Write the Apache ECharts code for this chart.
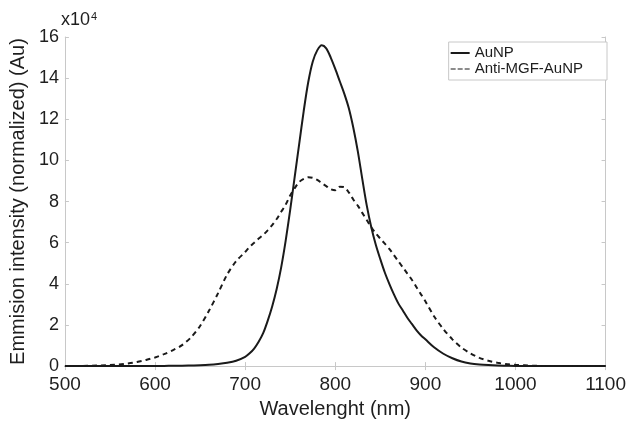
<!DOCTYPE html>
<html><head><meta charset="utf-8">
<script src="https://cdn.jsdelivr.net/npm/echarts@6/dist/echarts.min.js"></script>
<style>html,body{margin:0;padding:0;background:#fff}#c{width:629px;height:424px}</style>
</head><body><div id="c"></div>
<script>
// Wavelength (nm)
const wavelengths = [
  500,510,520,530,540,550,560,570,580,590,600,610,620,630,640,650,660,670,680,690,
  700,705,710,715,720,725,730,735,740,745,750,755,760,765,770,775,780,785,790,795,
  800,805,810,815,820,825,830,835,840,845,850,855,860,865,870,875,880,885,890,895,
  900,910,920,930,940,950,960,970,980,990,1000,1010,1020,1030,1040,1050,1060,1070,1080,1090,1100
];
// Emission intensity (x10^4)
const auNP = [
  0,0,0,0,0,0,0,0,0,0.01,0.01,0.01,0.02,0.02,0.03,0.04,0.06,0.1,0.16,0.26,
  0.45,0.62,0.85,1.18,1.6,2.2,2.9,3.75,4.8,6.1,7.6,9.2,10.8,12.4,13.8,14.8,15.35,15.6,15.45,15.0,
  14.45,13.85,13.25,12.55,11.6,10.45,9.1,7.8,6.75,5.9,5.2,4.55,4.0,3.5,3.05,2.7,2.35,2.05,1.75,1.5,
  1.3,0.9,0.6,0.38,0.22,0.13,0.08,0.05,0.03,0.02,0.01,0.01,0,0,0,0,0,0,0,0,0
];
const antiMGF = [
  0,0,0.01,0.02,0.03,0.05,0.08,0.13,0.2,0.3,0.42,0.58,0.78,1.02,1.4,1.95,2.7,3.55,4.45,5.1,
  5.55,5.8,6.0,6.2,6.38,6.6,6.85,7.15,7.5,7.85,8.3,8.65,8.95,9.1,9.18,9.15,9.05,8.9,8.75,8.6,
  8.55,8.72,8.7,8.45,8.1,7.8,7.45,7.1,6.75,6.45,6.2,5.95,5.7,5.4,5.1,4.8,4.5,4.2,3.85,3.5,
  3.15,2.4,1.8,1.3,0.9,0.62,0.4,0.26,0.16,0.1,0.06,0.04,0.02,0.01,0.01,0,0,0,0,0,0
];
const seriesNames = ['AuNP','Anti-MGF-AuNP'];
const xTicks = {min:500,max:1100,interval:100};
const yTicks = {min:0,max:16,interval:2};

const font = '"Liberation Sans", Arial, sans-serif';
const gridCol = '#c8c8c8';
const txtCol = '#1e1e1e';
const chart = echarts.init(document.getElementById('c'), null, {renderer:'canvas'});
const pair = arr => wavelengths.map((w,i)=>[w,arr[i]]);
const hiddenAxis = {show:true, axisLine:{show:true,lineStyle:{color:gridCol,width:1}}, axisTick:{show:true,inside:true,length:4,lineStyle:{color:gridCol}}, axisLabel:{show:false}, splitLine:{show:false}};
chart.setOption({
  animation:false,
  backgroundColor:'#fff',
  grid:{left:62,right:20,top:37,bottom:56,containLabel:false},
  xAxis:[{
    type:'value', min:xTicks.min, max:xTicks.max, interval:xTicks.interval, position:'bottom',
    name:'Wavelenght (nm)', nameLocation:'middle', nameGap:30,
    nameTextStyle:{fontFamily:font,fontSize:20,color:txtCol},
    axisLine:{show:true,onZero:false,lineStyle:{color:gridCol,width:1}},
    axisTick:{show:true,inside:true,length:4,lineStyle:{color:gridCol}},
    axisLabel:{fontFamily:font,fontSize:19,color:txtCol,margin:9,formatter:v=>String(v)},
    splitLine:{show:false}
  }, Object.assign({type:'value',min:xTicks.min,max:xTicks.max,interval:xTicks.interval,position:'top'},hiddenAxis)],
  yAxis:[{
    type:'value', min:yTicks.min, max:yTicks.max, interval:yTicks.interval, position:'left',
    name:'Emmision intensity (normalized) (Au)', nameLocation:'middle', nameGap:27, nameRotate:90,
    nameTextStyle:{fontFamily:font,fontSize:20,color:txtCol},
    axisLine:{show:true,onZero:false,lineStyle:{color:gridCol,width:1}},
    axisTick:{show:true,inside:true,length:4,lineStyle:{color:gridCol}},
    axisLabel:{fontFamily:font,fontSize:18,color:txtCol,margin:6},
    splitLine:{show:false}
  }, Object.assign({type:'value',min:yTicks.min,max:yTicks.max,interval:yTicks.interval,position:'right'},hiddenAxis)],
  legend:{
    orient:'vertical', right:22, top:42, itemGap:0, itemWidth:19, itemHeight:2,
    padding:[3,24,3,2], borderColor:gridCol, borderWidth:1, backgroundColor:'#fff',
    textStyle:{fontFamily:font,fontSize:15,lineHeight:16,color:txtCol},
    data:[
      {name:seriesNames[0], icon:'rect'},
      {name:seriesNames[1], icon:'path://M0,0h5v1h-5z M7,0h5v1h-5z M14,0h5v1h-5z'}
    ]
  },
  graphic:[{
    type:'text', left:61, top:11,
    style:{text:'{a|x10}{b|4}', rich:{a:{fontFamily:font,fontSize:18,fill:txtCol}, b:{fontFamily:font,fontSize:11,fill:txtCol,verticalAlign:'top',padding:[0,0,8,1]}}}
  }],
  series:[
    {name:seriesNames[0], type:'line', data:pair(auNP), showSymbol:false, smooth:0.3,
     lineStyle:{color:'#1a1a1a',width:2}, itemStyle:{color:'#1a1a1a'}},
    {name:seriesNames[1], type:'line', data:pair(antiMGF), showSymbol:false, smooth:0.3,
     lineStyle:{color:'#1a1a1a',width:2,type:[5,4]}, itemStyle:{color:'#1a1a1a'}}
  ]
});
</script></body></html>
